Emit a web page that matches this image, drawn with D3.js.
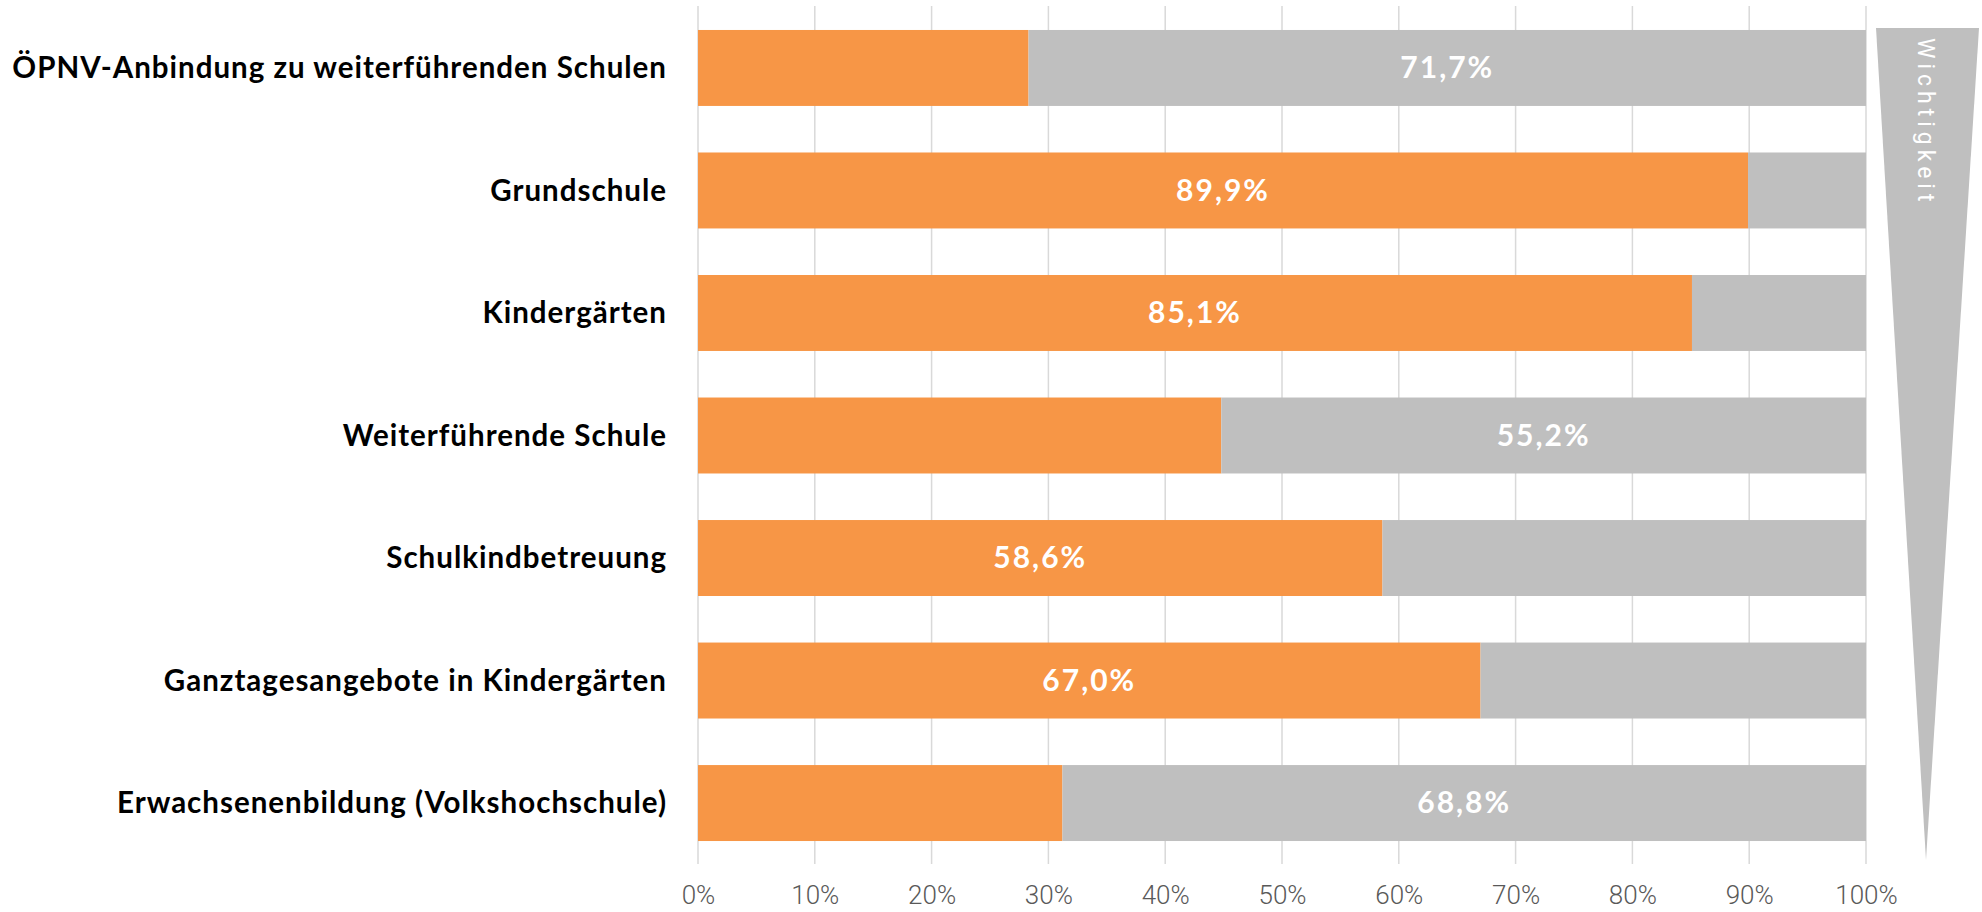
<!DOCTYPE html>
<html>
<head>
<meta charset="utf-8">
<script src="https://cdn.jsdelivr.net/npm/d3@7"></script>
<style>
  body { margin: 0; background: #fff; }
  svg { display: block; }
</style>
</head>
<body>
<div id="chart"></div>
<script>
const categories = [
  'ÖPNV-Anbindung zu weiterführenden Schulen',
  'Grundschule',
  'Kindergärten',
  'Weiterführende Schule',
  'Schulkindbetreuung',
  'Ganztagesangebote in Kindergärten',
  'Erwachsenenbildung (Volkshochschule)'
]
// orange share (wichtig) and grey share (rest) in percent
const orangeValues = [28.3, 89.9, 85.1, 44.8, 58.6, 67.0, 31.2]
const greyValues = [71.7, 10.1, 14.9, 55.2, 41.4, 33.0, 68.8]
const tickValues = [0, 10, 20, 30, 40, 50, 60, 70, 80, 90, 100]

const width = 1982
const height = 912

const svg = d3.select('#chart')
  .append('svg')
  .attr('width', width)
  .attr('height', height)

const x = d3.scaleLinear()
  .domain([0, 100])
  .range([698, 1866])

const y = d3.scaleBand()
  .domain(categories)
  .range([6.7, 864.3])
  .paddingInner(0.38)
  .paddingOuter(0.19)

// vertical gridlines
svg.append('g')
  .selectAll('line')
  .data(tickValues)
  .enter()
  .append('line')
  .attr('x1', d => x(d))
  .attr('x2', d => x(d))
  .attr('y1', 6)
  .attr('y2', 864)
  .attr('stroke', '#d9d9d9')
  .attr('stroke-width', 1.5)

const rows = categories.map((c, i) => ({
  name: c,
  orange: orangeValues[i],
  grey: greyValues[i]
}))

// orange part
svg.append('g')
  .selectAll('rect')
  .data(rows)
  .enter()
  .append('rect')
  .attr('x', x(0))
  .attr('y', d => y(d.name))
  .attr('width', d => x(d.orange) - x(0))
  .attr('height', y.bandwidth())
  .attr('fill', '#f79646')

// grey part
svg.append('g')
  .selectAll('rect')
  .data(rows)
  .enter()
  .append('rect')
  .attr('x', d => x(d.orange))
  .attr('y', d => y(d.name))
  .attr('width', d => x(100) - x(d.orange))
  .attr('height', y.bandwidth())
  .attr('fill', '#bfbfbf')

// value label sits in the bigger part
const fmt = v => v.toFixed(1).replace('.', ',') + '%'

svg.append('g')
  .selectAll('text')
  .data(rows)
  .enter()
  .append('text')
  .attr('x', d => d.orange > d.grey
    ? (x(0) + x(d.orange)) / 2
    : (x(d.orange) + x(100)) / 2)
  .attr('y', d => y(d.name) + y.bandwidth() / 2)
  .attr('dy', '0.34em')
  .attr('text-anchor', 'middle')
  .attr('fill', '#fff')
  .style('font-family', 'Lato, sans-serif')
  .style('font-weight', 700)
  .style('font-size', '30px')
  .style('letter-spacing', '2px')
  .text(d => fmt(d.orange > d.grey ? d.orange : d.grey))

// category labels
svg.append('g')
  .selectAll('text')
  .data(categories)
  .enter()
  .append('text')
  .attr('x', 667)
  .attr('y', d => y(d) + y.bandwidth() / 2)
  .attr('dy', '0.34em')
  .attr('text-anchor', 'end')
  .attr('fill', '#000')
  .style('font-family', 'Lato, sans-serif')
  .style('font-weight', 700)
  .style('font-size', '29.5px')
  .style('letter-spacing', '1px')
  .text(d => d)

// x axis tick labels
const xAxis = d3.axisBottom(x)
  .tickValues(tickValues)
  .tickSize(0)
  .tickFormat(d => d + '%')

const axisG = svg.append('g')
  .attr('transform', 'translate(0, 904)')
  .call(xAxis)

axisG.select('.domain').remove()
axisG.selectAll('text')
  .attr('y', 0)
  .attr('dy', 0)
  .attr('fill', '#595959')
  .style('font-family', 'Roboto, sans-serif')
  .style('font-weight', 300)
  .style('font-size', '26px')

// importance wedge on the right
svg.append('path')
  .attr('d', d3.line()([[1876, 28], [1979, 28], [1926, 860]]) + 'Z')
  .attr('fill', '#bfbfbf')

svg.append('text')
  .attr('transform', 'translate(1924, 38) rotate(90)')
  .attr('fill', '#fff')
  .style('font-family', 'Roboto, sans-serif')
  .style('font-weight', 400)
  .style('font-size', '23px')
  .style('letter-spacing', '5px')
  .attr('dominant-baseline', 'middle')
  .text('Wichtigkeit')
</script>
</body>
</html>
